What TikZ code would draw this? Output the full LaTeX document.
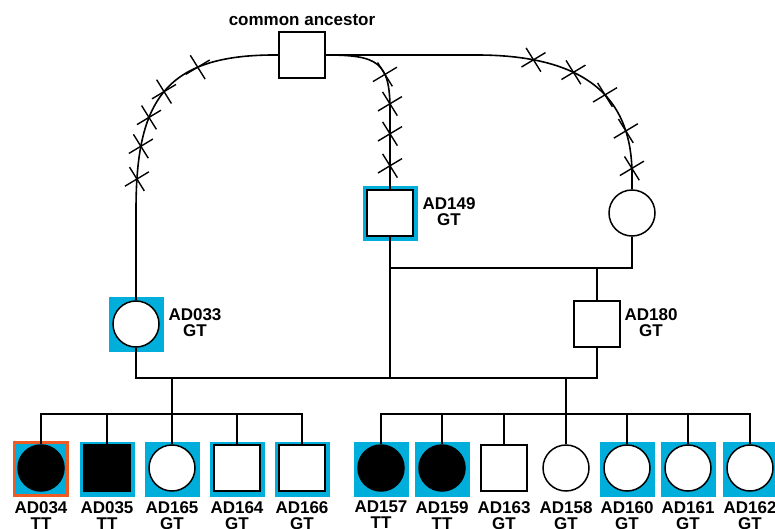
\documentclass[tikz,border=0pt]{standalone}
\usepackage{fontspec}
\setmainfont{Liberation Sans}
\usetikzlibrary{decorations.markings}
\definecolor{hlblue}{RGB}{0,174,219}
\definecolor{proband}{RGB}{240,90,35}
\newcommand\pedcross{\pgftransformresetnontranslations
  \draw[line width=1.4pt] (-12,7.2)--(12,-7.2) (-7.4,-11.9)--(7.4,11.9);}
\begin{document}
\begin{tikzpicture}[x=1pt,y=-1pt,
  lbl/.style={font=\bfseries\fontsize{17}{16}\selectfont, align=center, inner sep=0pt, anchor=north},
  hl/.style={fill=hlblue, minimum size=55pt, inner sep=0pt, draw=none, rectangle},
  pb/.style={fill=hlblue, draw=proband, line width=3pt, minimum size=53pt, inner sep=0pt, rectangle},
  male/.style={draw, line width=1.9pt, minimum size=46pt, inner sep=0pt, rectangle, fill=white},
  female/.style={draw, line width=1.5pt, circle, minimum size=46pt, inner sep=0pt, fill=white},
  aff/.style={fill=black},
  ln/.style={line width=1.6pt},
  crossesL/.style={postaction={decorate, decoration={markings,
     mark=at position 82pt with {\pedcross},
     mark=at position 124pt with {\pedcross},
     mark=at position 154pt with {\pedcross},
     mark=at position 184pt with {\pedcross},
     mark=at position 217pt with {\pedcross}}}},
  crossesM/.style={postaction={decorate, decoration={markings,
     mark=at position 66pt with {\pedcross},
     mark=at position 96pt with {\pedcross},
     mark=at position 126pt with {\pedcross},
     mark=at position 158pt with {\pedcross}}}},
  crossesR/.style={postaction={decorate, decoration={markings,
     mark=at position 208pt with {\pedcross},
     mark=at position 250pt with {\pedcross},
     mark=at position 289pt with {\pedcross},
     mark=at position 331pt with {\pedcross},
     mark=at position 369pt with {\pedcross}}}}
]
\useasboundingbox (0,0) rectangle (775,528);

% common ancestor
\node[male, line width=1.5pt] (ca) at (302,55) {};
\node[font=\bfseries\fontsize{17}{16}\selectfont, anchor=base, inner sep=0pt] (calbl) at (302,25) {common ancestor};

% generation II
\node[hl] (h149) at (390,213) {};
\node[male] (p149) at (390,213) {};
\node[lbl] (l149) at (449,197) {AD149\\GT};
\node[female] (f1) at (632,213) {};

% generation III
\node[hl] (h033) at (136,324) {};
\node[female] (p033) at (136,324) {};
\node[lbl] (l033) at (195,308) {AD033\\GT};
\node[male, line width=1.5pt] (p180) at (597,324) {};
\node[lbl] (l180) at (651,308) {AD180\\GT};

% descent lines with crosses
\draw[ln, crossesL] (ca.west) .. controls (165,54) and (136,100) .. (136,210) -- (p033.north);
\draw[ln, crossesM] (ca.east) .. controls (378,55) and (390,62) .. (390,110) -- (p149.north);
\draw[ln, crossesR] (ca.east) -- (480,55) .. controls (595,56) and (632,105) .. (632,175) -- (f1.north);

% junctions
\coordinate (m1) at (390,268);
\coordinate (mar) at (390,378);
\coordinate (s1) at (172,378);
\coordinate (s2) at (566,378);
\coordinate (bar1) at (172,414);
\coordinate (bar2) at (566,414);

\draw[ln] (f1.south) |- (m1);
\draw[ln] (p180.north) -- (p180.north |- m1);
\draw[ln] (p149.south) -- (mar);
\draw[ln] (p033.south) |- (mar) -| (p180.south);
\draw[ln] (s1) -- (bar1);
\draw[ln] (s2) -- (bar2);

% sibship 1
\node[pb] (h034) at (41,469) {};
\node[female, aff] (k034) at (41,468) {};
\node[hl] (h035) at (107,469) {};
\node[male, aff] (k035) at (107,468) {};
\node[hl] (h165) at (172,469) {};
\node[female] (k165) at (172,468) {};
\node[hl] (h164) at (237,469) {};
\node[male] (k164) at (237,468) {};
\node[hl] (h166) at (302,469) {};
\node[male] (k166) at (302,468) {};

\node[lbl] (l034) at (41,501) {AD034\\TT};
\node[lbl] (l035) at (107,501) {AD035\\TT};
\node[lbl] (l165) at (172,501) {AD165\\GT};
\node[lbl] (l164) at (237,501) {AD164\\GT};
\node[lbl] (l166) at (302,501) {AD166\\GT};

\draw[ln] (k034.north) |- (bar1) -| (k166.north);
\foreach \k in {k035,k165,k164}{\draw[ln] (\k.north) -- (\k.north |- bar1);}

% sibship 2
\node[hl] (h157) at (381,469) {};
\node[female, aff] (k157) at (381,468) {};
\node[hl] (h159) at (442,469) {};
\node[female, aff] (k159) at (442,468) {};
\node[male, line width=1.5pt] (k163) at (504,468) {};
\node[female] (k158) at (566,468) {};
\node[hl] (h160) at (627,469) {};
\node[female] (k160) at (627,468) {};
\node[hl] (h161) at (688,469) {};
\node[female] (k161) at (688,468) {};
\node[hl] (h162) at (750,469) {};
\node[female] (k162) at (750,468) {};

\node[lbl] (l157) at (381,501) {AD157\\TT};
\node[lbl] (l159) at (442,501) {AD159\\TT};
\node[lbl] (l163) at (504,501) {AD163\\GT};
\node[lbl] (l158) at (566,501) {AD158\\GT};
\node[lbl] (l160) at (627,501) {AD160\\GT};
\node[lbl] (l161) at (688,501) {AD161\\GT};
\node[lbl] (l162) at (750,501) {AD162\\GT};

\draw[ln] (k157.north) |- (bar2) -| (k162.north);
\foreach \k in {k159,k163,k158,k160,k161}{\draw[ln] (\k.north) -- (\k.north |- bar2);}
\end{tikzpicture}
\end{document}
